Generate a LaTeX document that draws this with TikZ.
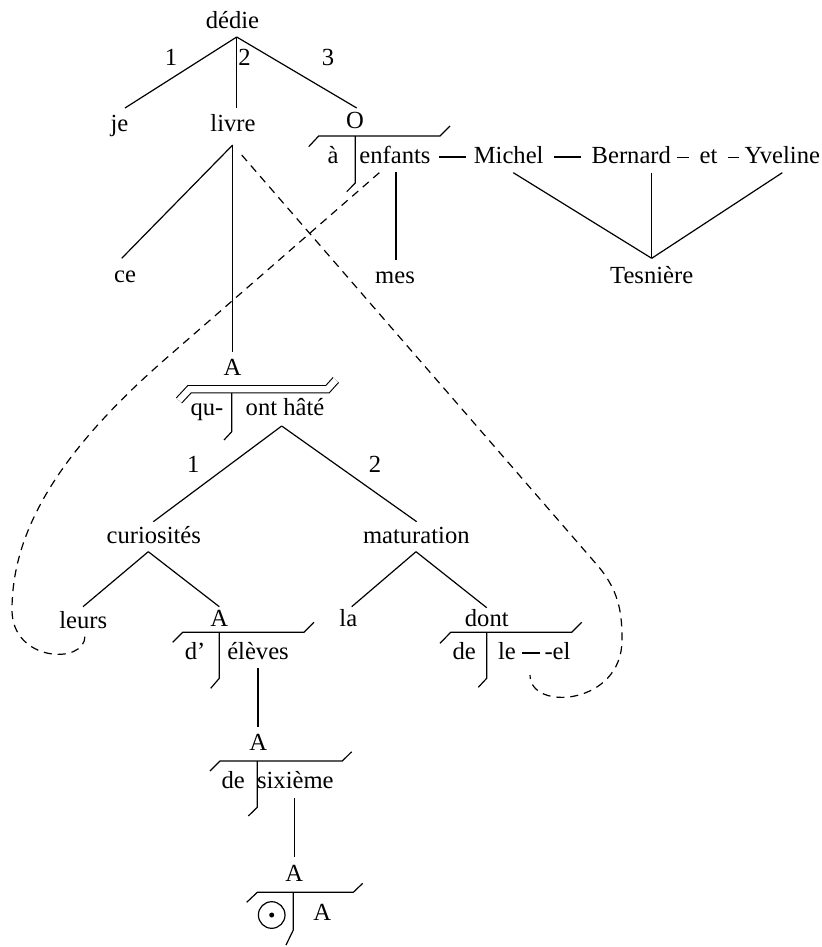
\documentclass[tikz,border=0pt]{standalone}
\usepackage{fontspec}
\setmainfont{Liberation Serif}
\begin{document}
\begin{tikzpicture}[x=0.5pt,y=0.5pt,
  w/.style={anchor=base, inner sep=0pt, font=\fontsize{12.3}{14}\selectfont},
  link/.style={line width=0.6pt},
  anaph/.style={line width=0.6pt, dash pattern=on 4pt off 3pt},
  trans/.style={line width=0.6pt, line join=miter},
  dtrans/.style={line width=0.55pt, double, double distance=3.1pt}]
\useasboundingbox (0,0) rectangle (821,-947);

% ---------- words ----------
\node[w] (dedie) at (232.5,-28.3) {dédie};
\node[w] (l1) at (171,-65.7) {1};
\node[w] (l2) at (244.5,-65.7) {2};
\node[w] (l3) at (328,-65.7) {3};
\node[w] (je) at (119.5,-131.7) {je};
\node[w] (livre) at (233,-131.7) {livre};
\node[w] (O) at (355,-128.3) {O};
\node[w] (a1) at (333,-163.3) {à};
\node[w] (enfants) at (395,-163.3) {enfants};
\node[w] (michel) at (508.7,-163.3) {Michel};
\node[w] (bernard) at (631.3,-163.3) {Bernard};
\node[w] (et) at (708.5,-163.3) {et};
\node[w] (yveline) at (782.3,-163.3) {Yveline};
\node[w] (ce) at (125,-282.7) {ce};
\node[w] (mes) at (395,-283.3) {mes};
\node[w] (tesniere) at (651.7,-283.3) {Tesnière};
\node[w] (A1) at (232.5,-375) {A};
\node[w] (qu) at (207,-415) {qu-};
\node[w] (onthate) at (285,-415) {ont hâté};
\node[w] (l4) at (193.3,-472.7) {1};
\node[w] (l5) at (375,-472.7) {2};
\node[w] (curiosites) at (153.8,-543.3) {curiosités};
\node[w] (maturation) at (416.3,-543.3) {maturation};
\node[w] (leurs) at (83.3,-628.3) {leurs};
\node[w] (A2) at (219.3,-626.7) {A};
\node[w] (la) at (348.3,-626.7) {la};
\node[w] (dont) at (486.8,-626.7) {dont};
\node[w] (d) at (195,-659.3) {d’};
\node[w] (eleves) at (258,-659.3) {élèves};
\node[w] (de1) at (464.3,-659.3) {de};
\node[w] (le) at (507,-659.3) {le};
\node[w] (el) at (557.5,-659.3) {-el};
\node[w] (A3) at (258.3,-750) {A};
\node[w] (de2) at (233.3,-788.3) {de};
\node[w] (sixieme) at (295.3,-788.3) {sixième};
\node[w] (A4) at (294.3,-881.7) {A};
\node[draw, circle, line width=0.6pt, inner sep=0pt, minimum size=13.3pt] (zero) at (271.7,-915) {};
\fill (zero.center) circle (2.5);
\node[w] (A5) at (322.3,-920) {A};

% ---------- attachment points ----------
\coordinate (dedie-d) at (236.7,-37);
\coordinate (je-u) at (125,-108);
\coordinate (livre-u) at (236.7,-108);
\coordinate (O-u) at (356.7,-108);
\coordinate (livre-d) at (232.7,-145);
\coordinate (livre-r) at (241.7,-155);
\coordinate (ce-u) at (121.7,-258.3);
\coordinate (A1-u) at (232.7,-351.7);
\coordinate (enfants-d) at (396,-171.7);
\coordinate (enfants-l) at (379.3,-172.7);
\coordinate (mes-u) at (396,-260);
\coordinate (michel-d) at (513.3,-172.7);
\coordinate (bernard-d) at (651.7,-172.7);
\coordinate (yveline-d) at (782.3,-172.7);
\coordinate (tesniere-u) at (651.7,-258.3);
\coordinate (onthate-d) at (281.7,-426);
\coordinate (curiosites-u) at (153.3,-521.7);
\coordinate (maturation-u) at (416.7,-521.7);
\coordinate (curiosites-d) at (148.3,-551.7);
\coordinate (maturation-d) at (416,-551.7);
\coordinate (leurs-u) at (83,-606.7);
\coordinate (leurs-d) at (85,-636);
\coordinate (A2-u) at (219.3,-606.7);
\coordinate (la-u) at (351.7,-606.7);
\coordinate (dont-u) at (486.7,-607.7);
\coordinate (eleves-d) at (258,-668.3);
\coordinate (A3-u) at (258,-726.7);
\coordinate (sixieme-d) at (294.3,-798.3);
\coordinate (A4-u) at (294.3,-856.7);
\coordinate (el-d) at (530,-675);

% ---------- dependency links ----------
\draw[link] (dedie-d) -- (je-u);
\draw[link] (dedie-d) -- (livre-u);
\draw[link] (dedie-d) -- (O-u);
\draw[link] (livre-d) -- (ce-u);
\draw[link] (livre-d) -- (A1-u);
\draw[link] (enfants-d) -- (mes-u);
\draw[link] (michel-d) -- (tesniere-u);
\draw[link] (bernard-d) -- (tesniere-u);
\draw[link] (yveline-d) -- (tesniere-u);
\draw[link] (onthate-d) -- (curiosites-u);
\draw[link] (onthate-d) -- (maturation-u);
\draw[link] (curiosites-d) -- (leurs-u);
\draw[link] (curiosites-d) -- (A2-u);
\draw[link] (maturation-d) -- (la-u);
\draw[link] (maturation-d) -- (dont-u);
\draw[link] (eleves-d) -- (A3-u);
\draw[link] (sixieme-d) -- (A4-u);

% ---------- junction dashes ----------
\draw[link] (439,-157) -- (466,-157);
\draw[link] (554,-157) -- (581,-157);
\draw[link] (677,-157.5) -- (689,-157.5);
\draw[link] (728,-157.5) -- (739,-157.5);
\draw[link] (521.7,-653) -- (540,-653);

% ---------- translation brackets ----------
\draw[trans] (308.7,-146.7) -- (318.7,-136) -- (440,-136) -- (450,-126);
\draw[trans] (355.3,-136) -- (355.3,-183) -- (346.7,-191.7);

\draw[trans] (231.7,-392) -- (231.7,-431.7) -- (224,-440);
\draw[dtrans] (179,-400.5) -- (189.5,-389.2) -- (327.5,-389.2) -- (335.8,-380);

\draw[trans] (172.7,-642.3) -- (182.7,-632.3) -- (304,-632.3) -- (314,-622.3);
\draw[trans] (219.3,-632.3) -- (219.3,-678.3) -- (210.7,-688.3);

\draw[trans] (440,-643.3) -- (450.7,-632.3) -- (571.7,-632.3) -- (581.7,-622.3);
\draw[trans] (486.7,-632.3) -- (486.7,-678.3) -- (478.3,-687.3);

\draw[trans] (210,-771) -- (220,-761) -- (342.3,-761) -- (351.7,-751.7);
\draw[trans] (257.3,-761) -- (257.3,-807.3) -- (248.3,-816);

\draw[trans] (246.7,-902.3) -- (257.3,-892.3) -- (353.3,-892.3) -- (362.7,-883.3);
\draw[trans] (293.3,-892.3) -- (293.3,-930) -- (286,-945);

% ---------- anaphoric links ----------
\draw[anaph] (livre-r) -- (598,-566)
  .. controls (620,-592) and (622,-615) .. (622,-640)
  .. controls (622,-705) and (530,-712) .. (el-d);
\draw[anaph] (enfants-l) -- (170,-355)
  .. controls (60,-450) and (12,-530) .. (12,-610)
  .. controls (12,-662) and (85,-665) .. (leurs-d);
\end{tikzpicture}
\end{document}
